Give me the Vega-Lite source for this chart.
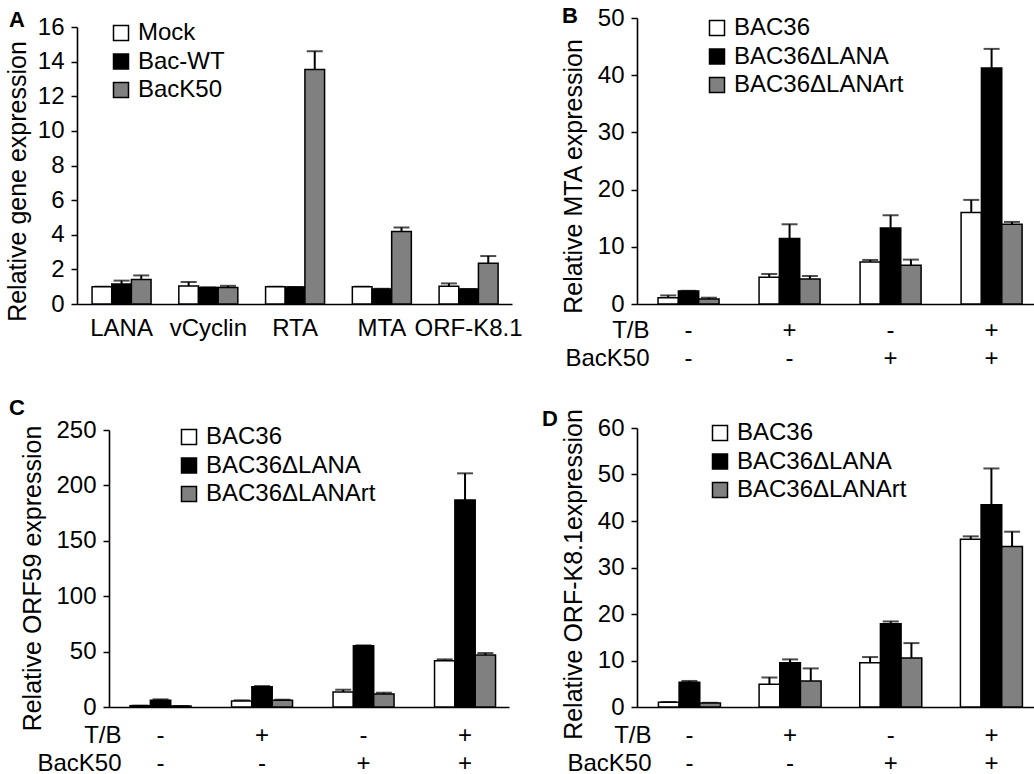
{
  "$schema": "https://vega.github.io/schema/vega-lite/v6.json",
  "background": "white",
  "padding": {"left": 5, "top": 5, "right": 0, "bottom": 0},
  "config": {
    "font": "Liberation Sans",
    "view": {"stroke": null},
    "axis": {"grid": false, "domainColor": "black", "domainWidth": 1.6, "tickColor": "black", "tickWidth": 1.5, "tickSize": 6, "labelColor": "black", "labelFontSize": 24, "labelFont": "Liberation Sans", "labelOverlap": false, "titleColor": "black", "titleFontSize": 25, "titleFontWeight": "normal", "titleFont": "Liberation Sans", "labelPadding": 7, "titlePadding": 7},
    "legend": {"orient": "none", "title": null, "labelFontSize": 24, "labelColor": "black", "labelFont": "Liberation Sans", "labelLimit": 0, "symbolType": "square", "symbolSize": 225, "symbolStrokeColor": "black", "symbolStrokeWidth": 1.5, "symbolOpacity": 1, "labelOffset": 5, "rowPadding": 4.5, "padding": 0},
    "title": {"fontSize": 22, "fontWeight": "bold", "font": "Liberation Sans", "color": "black", "anchor": "start", "frame": "group", "offset": 0}
  },
  "datasets": {
    "a": [
      {"gene": "LANA", "series": "Mock", "value": 1.0, "hi": 1.0},
      {"gene": "LANA", "series": "Bac-WT", "value": 1.15, "hi": 1.35},
      {"gene": "LANA", "series": "BacK50", "value": 1.42, "hi": 1.65},
      {"gene": "vCyclin", "series": "Mock", "value": 1.04, "hi": 1.27},
      {"gene": "vCyclin", "series": "Bac-WT", "value": 0.96, "hi": 0.96},
      {"gene": "vCyclin", "series": "BacK50", "value": 0.96, "hi": 1.05},
      {"gene": "RTA", "series": "Mock", "value": 1.0, "hi": 1.0},
      {"gene": "RTA", "series": "Bac-WT", "value": 0.98, "hi": 0.98},
      {"gene": "RTA", "series": "BacK50", "value": 13.55, "hi": 14.6},
      {"gene": "MTA", "series": "Mock", "value": 1.0, "hi": 1.0},
      {"gene": "MTA", "series": "Bac-WT", "value": 0.86, "hi": 0.88},
      {"gene": "MTA", "series": "BacK50", "value": 4.19, "hi": 4.42},
      {"gene": "ORF-K8.1", "series": "Mock", "value": 1.02, "hi": 1.19},
      {"gene": "ORF-K8.1", "series": "Bac-WT", "value": 0.86, "hi": 0.86},
      {"gene": "ORF-K8.1", "series": "BacK50", "value": 2.35, "hi": 2.77}
    ],
    "b": [
      {"cond": "-|-", "series": "BAC36", "value": 1.1, "hi": 1.5},
      {"cond": "-|-", "series": "BAC36ΔLANA", "value": 2.28, "hi": 2.3},
      {"cond": "-|-", "series": "BAC36ΔLANArt", "value": 0.88, "hi": 1.1},
      {"cond": "+|-", "series": "BAC36", "value": 4.67, "hi": 5.25},
      {"cond": "+|-", "series": "BAC36ΔLANA", "value": 11.43, "hi": 13.94},
      {"cond": "+|-", "series": "BAC36ΔLANArt", "value": 4.38, "hi": 4.9},
      {"cond": "-|+", "series": "BAC36", "value": 7.35, "hi": 7.7},
      {"cond": "-|+", "series": "BAC36ΔLANA", "value": 13.3, "hi": 15.5},
      {"cond": "-|+", "series": "BAC36ΔLANArt", "value": 6.77, "hi": 7.76},
      {"cond": "+|+", "series": "BAC36", "value": 15.99, "hi": 18.2},
      {"cond": "+|+", "series": "BAC36ΔLANA", "value": 41.25, "hi": 44.6},
      {"cond": "+|+", "series": "BAC36ΔLANArt", "value": 13.94, "hi": 14.35}
    ],
    "c": [
      {"cond": "-|-", "series": "BAC36", "value": 1.2, "hi": 1.2},
      {"cond": "-|-", "series": "BAC36ΔLANA", "value": 6.0, "hi": 6.9},
      {"cond": "-|-", "series": "BAC36ΔLANArt", "value": 0.9, "hi": 0.9},
      {"cond": "+|-", "series": "BAC36", "value": 5.4, "hi": 6.0},
      {"cond": "+|-", "series": "BAC36ΔLANA", "value": 18.3, "hi": 18.9},
      {"cond": "+|-", "series": "BAC36ΔLANArt", "value": 6.0, "hi": 6.6},
      {"cond": "-|+", "series": "BAC36", "value": 13.5, "hi": 15.6},
      {"cond": "-|+", "series": "BAC36ΔLANA", "value": 55.3, "hi": 55.6},
      {"cond": "-|+", "series": "BAC36ΔLANArt", "value": 11.7, "hi": 12.9},
      {"cond": "+|+", "series": "BAC36", "value": 41.8, "hi": 43.0},
      {"cond": "+|+", "series": "BAC36ΔLANA", "value": 186.9, "hi": 210.9},
      {"cond": "+|+", "series": "BAC36ΔLANArt", "value": 46.9, "hi": 48.7}
    ],
    "d": [
      {"cond": "-|-", "series": "BAC36", "value": 1.0, "hi": 1.1},
      {"cond": "-|-", "series": "BAC36ΔLANA", "value": 5.3, "hi": 5.6},
      {"cond": "-|-", "series": "BAC36ΔLANArt", "value": 0.86, "hi": 0.9},
      {"cond": "+|-", "series": "BAC36", "value": 4.87, "hi": 6.37},
      {"cond": "+|-", "series": "BAC36ΔLANA", "value": 9.52, "hi": 10.24},
      {"cond": "+|-", "series": "BAC36ΔLANArt", "value": 5.58, "hi": 8.3},
      {"cond": "-|+", "series": "BAC36", "value": 9.52, "hi": 10.74},
      {"cond": "-|+", "series": "BAC36ΔLANA", "value": 17.9, "hi": 18.4},
      {"cond": "-|+", "series": "BAC36ΔLANArt", "value": 10.52, "hi": 13.74},
      {"cond": "+|+", "series": "BAC36", "value": 36.08, "hi": 36.7},
      {"cond": "+|+", "series": "BAC36ΔLANA", "value": 43.5, "hi": 51.3},
      {"cond": "+|+", "series": "BAC36ΔLANArt", "value": 34.5, "hi": 37.7}
    ]
  },
  "columns": 2,
  "bounds": "flush",
  "align": "each",
  "spacing": {"row": 124, "column": 125},
  "resolve": {"scale": {"x": "independent", "y": "independent", "xOffset": "independent", "color": "independent"}, "legend": {"color": "independent"}},
  "concat": [
    {
      "title": {"text": "A", "dx": -68, "dy": 21},
      "width": 435, "height": 286,
      "data": {"name": "a"},
      "encoding": {
        "x": {"field": "gene", "type": "nominal", "sort": null, "scale": {"paddingInner": 0.32, "paddingOuter": 0.167, "align": 0.52}, "axis": {"title": null, "labelAngle": 0, "ticks": false, "tickSize": 0, "labelPadding": 12, "labelBaseline": "top"}},
        "xOffset": {"field": "series", "type": "nominal", "scale": {"domain": ["Mock", "Bac-WT", "BacK50"], "paddingInner": 0, "paddingOuter": 0}}
      },
      "layer": [
        {"mark": {"type": "rule", "color": "black", "strokeWidth": 2}, "encoding": {"y": {"field": "value", "type": "quantitative"}, "y2": {"field": "hi"}}},
        {"mark": {"type": "tick", "color": "black", "thickness": 2, "size": 16}, "encoding": {"y": {"field": "hi", "type": "quantitative"}}},
        {"mark": {"type": "bar", "stroke": "black", "strokeWidth": 1.5},
         "encoding": {
           "y": {"field": "value", "type": "quantitative", "scale": {"domain": [0, 16], "range": [286, 9], "nice": false}, "axis": {"title": "Relative gene expression", "titleY": 163, "tickCount": 20, "values": [0, 2, 4, 6, 8, 10, 12, 14, 16]}},
           "color": {"field": "series", "type": "nominal", "scale": {"domain": ["Mock", "Bac-WT", "BacK50"], "range": ["white", "black", "#808080"]}, "legend": {"legendX": 32, "legendY": 3}}
         }}
      ]
    },
    {
      "title": {"text": "B", "dx": -75, "dy": 26},
      "width": 398, "height": 286,
      "data": {"name": "b"},
      "encoding": {
        "x": {"field": "cond", "type": "nominal", "sort": null, "scale": {"paddingInner": 0.396, "paddingOuter": 0.168, "align": 0.62}, "axis": {"title": ["T/B", "BacK50"], "titleX": 12, "titleY": 14, "titleAlign": "right", "titleAnchor": null, "titleBaseline": "top", "titleLineHeight": 28, "titleFontSize": 24, "labelAngle": 0, "ticks": false, "tickSize": 0, "labelPadding": 14, "labelBaseline": "top", "labelLineHeight": 28, "labelExpr": "split(datum.label, '|')"}},
        "xOffset": {"field": "series", "type": "nominal", "scale": {"domain": ["BAC36", "BAC36ΔLANA", "BAC36ΔLANArt"], "paddingInner": 0, "paddingOuter": 0}}
      },
      "layer": [
        {"mark": {"type": "rule", "color": "black", "strokeWidth": 2}, "encoding": {"y": {"field": "value", "type": "quantitative"}, "y2": {"field": "hi"}}},
        {"mark": {"type": "tick", "color": "black", "thickness": 2, "size": 16}, "encoding": {"y": {"field": "hi", "type": "quantitative"}}},
        {"mark": {"type": "bar", "stroke": "black", "strokeWidth": 1.5},
         "encoding": {
           "y": {"field": "value", "type": "quantitative", "scale": {"domain": [0, 50], "nice": false}, "axis": {"title": "Relative MTA expression", "titleY": 158, "titlePadding": 11, "tickCount": 20, "values": [0, 10, 20, 30, 40, 50]}},
           "color": {"field": "series", "type": "nominal", "scale": {"domain": ["BAC36", "BAC36ΔLANA", "BAC36ΔLANArt"], "range": ["white", "black", "#808080"]}, "legend": {"legendX": 68, "legendY": -2}}
         }}
      ]
    },
    {
      "title": {"text": "C", "dx": -68, "dy": 6},
      "width": 432, "height": 279,
      "data": {"name": "c"},
      "encoding": {
        "x": {"field": "cond", "type": "nominal", "sort": null, "scale": {"range": [32, 432], "paddingInner": 0.399, "paddingOuter": 0.17, "align": 0.61}, "axis": {"title": ["T/B", "BacK50"], "titleX": 44, "titleY": 16, "titleAlign": "right", "titleAnchor": null, "titleBaseline": "top", "titleLineHeight": 28, "titleFontSize": 24, "labelAngle": 0, "ticks": false, "tickSize": 0, "labelPadding": 16, "labelBaseline": "top", "labelLineHeight": 28, "labelExpr": "split(datum.label, '|')"}},
        "xOffset": {"field": "series", "type": "nominal", "scale": {"domain": ["BAC36", "BAC36ΔLANA", "BAC36ΔLANArt"], "paddingInner": 0, "paddingOuter": 0}}
      },
      "layer": [
        {"mark": {"type": "rule", "color": "black", "strokeWidth": 2}, "encoding": {"y": {"field": "value", "type": "quantitative"}, "y2": {"field": "hi"}}},
        {"mark": {"type": "tick", "color": "black", "thickness": 2, "size": 16}, "encoding": {"y": {"field": "hi", "type": "quantitative"}}},
        {"mark": {"type": "bar", "stroke": "black", "strokeWidth": 1.5},
         "encoding": {
           "y": {"field": "value", "type": "quantitative", "scale": {"domain": [0, 250], "range": [279, 2], "nice": false}, "axis": {"title": "Relative ORF59 expression", "titleY": 150, "titlePadding": 10, "tickCount": 20, "values": [0, 50, 100, 150, 200, 250], "offset": -32}},
           "color": {"field": "series", "type": "nominal", "scale": {"domain": ["BAC36", "BAC36ΔLANA", "BAC36ΔLANArt"], "range": ["white", "black", "#808080"]}, "legend": {"legendX": 100, "legendY": -3}}
         }}
      ]
    },
    {
      "title": {"text": "D", "dx": -95, "dy": 26},
      "width": 398, "height": 279,
      "data": {"name": "d"},
      "encoding": {
        "x": {"field": "cond", "type": "nominal", "sort": null, "scale": {"paddingInner": 0.384, "paddingOuter": 0.169, "align": 0.63}, "axis": {"title": ["T/B", "BacK50"], "titleX": 14, "titleY": 16, "titleAlign": "right", "titleAnchor": null, "titleBaseline": "top", "titleLineHeight": 28, "titleFontSize": 24, "labelAngle": 0, "ticks": false, "tickSize": 0, "labelPadding": 16, "labelBaseline": "top", "labelLineHeight": 28, "labelExpr": "split(datum.label, '|')"}},
        "xOffset": {"field": "series", "type": "nominal", "scale": {"domain": ["BAC36", "BAC36ΔLANA", "BAC36ΔLANArt"], "paddingInner": 0, "paddingOuter": 0}}
      },
      "layer": [
        {"mark": {"type": "rule", "color": "black", "strokeWidth": 2}, "encoding": {"y": {"field": "value", "type": "quantitative"}, "y2": {"field": "hi"}}},
        {"mark": {"type": "tick", "color": "black", "thickness": 2, "size": 16}, "encoding": {"y": {"field": "hi", "type": "quantitative"}}},
        {"mark": {"type": "bar", "stroke": "black", "strokeWidth": 1.5},
         "encoding": {
           "y": {"field": "value", "type": "quantitative", "scale": {"domain": [0, 60], "nice": false}, "axis": {"title": "Relative ORF-K8.1expression", "titleY": 146, "titlePadding": 11, "tickCount": 20, "values": [0, 10, 20, 30, 40, 50, 60]}},
           "color": {"field": "series", "type": "nominal", "scale": {"domain": ["BAC36", "BAC36ΔLANA", "BAC36ΔLANArt"], "range": ["white", "black", "#808080"]}, "legend": {"legendX": 71, "legendY": -7}}
         }}
      ]
    }
  ]
}
